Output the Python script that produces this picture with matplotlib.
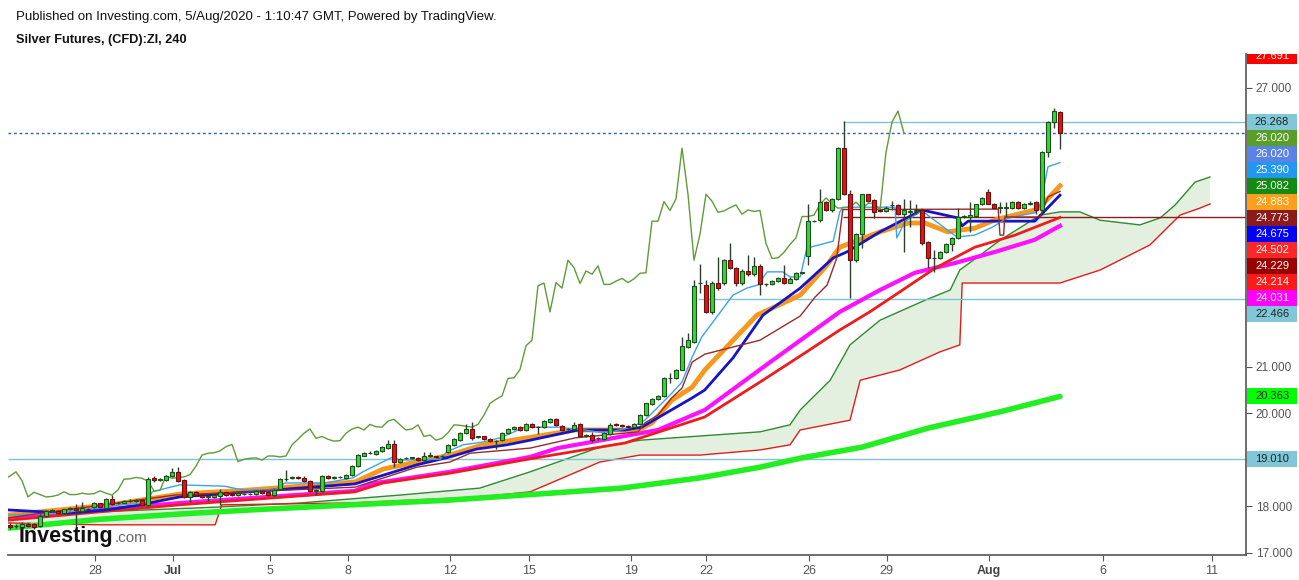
import numpy as np
import matplotlib
matplotlib.use("Agg")
import matplotlib.pyplot as plt
from matplotlib.patches import Rectangle
from matplotlib.transforms import Bbox, TransformedBbox
from matplotlib import font_manager

# ---------------- data ----------------
opens = [17.60,17.57,17.55,17.62,17.62,17.57,17.80,17.89,17.90,17.86,17.94,17.96,17.90,17.95,17.98,18.06,17.96,18.15,18.06,18.08,
         18.11,18.12,18.13,18.03,18.60,18.57,18.56,18.65,18.74,18.56,18.20,18.30,18.25,18.20,18.20,18.23,18.31,18.26,18.24,18.26,
         18.26,18.26,18.33,18.31,18.25,18.37,18.58,18.61,18.62,18.61,18.54,18.33,18.33,18.65,18.61,18.62,18.61,18.68,18.87,19.09,
         19.14,19.13,19.19,19.26,19.33,18.96,19.03,19.04,19.04,18.99,19.08,19.07,19.07,19.16,19.32,19.42,19.57,19.66,19.49,19.50,
         19.45,19.40,19.42,19.57,19.66,19.70,19.64,19.77,19.71,19.71,19.82,19.87,19.73,19.65,19.65,19.76,19.50,19.53,19.46,19.44,
         19.55,19.76,19.74,19.72,19.70,19.77,19.96,20.20,20.30,20.37,20.75,20.75,20.94,21.43,21.54,22.79,22.76,22.17,22.79,22.79,
         23.29,23.13,22.79,23.06,22.99,23.17,22.77,22.77,22.84,22.90,22.81,22.88,23.02,23.39,24.13,24.15,24.54,24.36,24.61,25.70,
         24.71,23.29,23.85,24.71,24.58,24.37,24.35,24.47,24.48,24.28,24.33,24.35,24.37,23.69,23.33,23.33,23.46,23.63,23.77,24.23,
         24.21,24.25,24.49,24.75,24.51,24.42,24.42,24.41,24.54,24.42,24.51,24.54,24.37,25.61,26.26,26.47]
highs = [17.63,17.61,17.65,17.66,17.64,17.84,17.92,17.94,17.92,17.95,17.99,18.05,18.10,17.97,18.09,18.08,18.17,18.24,18.10,18.13,
         18.15,18.16,18.15,18.63,18.64,18.61,18.67,18.82,18.85,18.58,18.33,18.32,18.27,18.24,18.26,18.36,18.33,18.28,18.30,18.28,
         18.29,18.35,18.35,18.33,18.37,18.61,18.78,18.65,18.64,18.66,18.56,18.37,18.68,18.67,18.64,18.65,18.70,18.88,19.12,19.16,
         19.18,19.21,19.30,19.42,19.42,19.04,19.05,19.06,19.06,19.17,19.17,19.09,19.10,19.34,19.46,19.59,19.76,19.82,19.52,19.52,
         19.47,19.43,19.59,19.68,19.72,19.72,19.79,19.79,19.73,19.85,19.89,19.89,19.75,19.68,19.81,19.78,19.55,19.60,19.49,19.60,
         19.80,19.78,19.76,19.74,19.78,19.98,20.23,20.32,20.39,20.77,20.86,20.96,21.63,21.72,22.87,23.21,22.86,22.85,23.35,23.32,
         23.65,23.15,23.10,23.40,23.37,23.21,22.80,22.87,22.93,23.19,22.92,23.03,23.04,24.51,24.15,24.82,24.56,24.63,25.72,26.28,
         24.80,23.87,24.72,24.72,24.60,24.40,24.45,24.56,24.50,24.61,24.58,24.49,24.39,23.71,23.51,23.49,23.65,23.80,24.41,24.26,
         24.54,24.51,24.65,24.82,24.53,24.55,24.55,24.56,24.56,24.53,24.56,24.56,25.63,26.28,26.57,26.50]
lows = [17.52,17.54,17.53,17.55,17.52,17.55,17.78,17.87,17.83,17.84,17.92,17.55,17.88,17.91,17.96,17.96,17.94,18.02,18.04,18.06,
        18.09,18.10,18.01,18.01,18.53,18.55,18.54,18.63,18.53,18.17,18.10,18.23,18.17,18.11,18.18,18.03,18.23,18.23,18.22,18.24,
        18.24,18.24,18.26,18.22,18.23,18.35,18.55,18.58,18.58,18.52,18.31,18.24,18.30,18.58,18.59,18.60,18.59,18.66,18.85,19.07,
        19.12,19.11,19.17,19.24,18.85,18.94,19.01,19.02,18.97,18.97,19.05,19.04,19.05,19.14,19.30,19.40,19.55,19.42,19.47,19.42,
        19.38,19.24,19.40,19.55,19.64,19.62,19.62,19.69,19.55,19.69,19.80,19.73,19.62,19.63,19.63,19.48,19.48,19.38,19.43,19.42,
        19.53,19.72,19.70,19.68,19.68,19.75,19.94,20.18,20.28,20.35,20.66,20.73,20.92,21.41,21.52,22.58,22.15,22.13,22.66,22.76,
        23.10,22.74,22.76,22.95,22.96,22.54,22.74,22.75,22.82,22.78,22.79,22.86,22.99,23.19,24.11,24.12,24.34,24.33,24.59,24.69,
        22.48,23.25,23.56,24.54,24.20,24.32,24.33,24.37,24.26,23.47,24.01,24.28,23.62,23.12,23.04,23.31,23.44,23.48,23.75,24.20,
        23.90,24.23,24.47,24.49,24.39,24.30,24.23,24.39,24.39,24.40,24.48,24.28,24.35,25.50,26.13,25.68]
closes = [17.55,17.58,17.62,17.57,17.56,17.79,17.89,17.91,17.85,17.93,17.95,17.91,17.96,17.93,18.06,17.98,18.15,18.04,18.08,18.11,
          18.12,18.13,18.03,18.58,18.56,18.58,18.65,18.74,18.55,18.20,18.30,18.25,18.20,18.21,18.24,18.31,18.25,18.25,18.28,18.26,
          18.27,18.33,18.28,18.24,18.35,18.58,18.59,18.62,18.60,18.54,18.33,18.34,18.65,18.60,18.62,18.63,18.68,18.86,19.10,19.14,
          19.15,19.19,19.28,19.33,18.96,19.01,19.03,19.04,18.99,19.08,19.08,19.06,19.08,19.32,19.44,19.57,19.66,19.46,19.50,19.44,
          19.40,19.41,19.57,19.66,19.70,19.64,19.76,19.71,19.70,19.83,19.87,19.75,19.64,19.66,19.75,19.50,19.53,19.42,19.46,19.58,
          19.75,19.74,19.72,19.70,19.76,19.96,20.21,20.30,20.37,20.75,20.76,20.94,21.45,21.57,22.74,22.80,22.18,22.81,22.69,23.29,
          23.13,22.79,23.06,22.99,23.17,22.77,22.77,22.84,22.90,22.81,22.89,23.01,23.02,24.13,24.13,24.55,24.36,24.61,25.70,24.71,
          23.29,23.85,24.71,24.56,24.32,24.35,24.42,24.48,24.28,24.37,24.34,24.36,23.65,23.33,23.34,23.46,23.63,23.77,24.23,24.23,
          24.26,24.49,24.63,24.51,24.41,24.42,24.43,24.54,24.41,24.51,24.52,24.37,25.61,26.26,26.50,26.02]

ma200_idx = [-0.3, 15, 28, 40, 57, 73, 90, 102, 115, 125, 132, 142, 153, 165, 175]
ma200_val = [17.53, 17.72, 17.83, 17.92, 18.03, 18.13, 18.28, 18.39, 18.61, 18.84, 19.04, 19.27, 19.68, 20.03, 20.36]

ma100_idx = [-0.3, 15, 28.3, 57.5, 60, 73.3, 86.7, 91.3, 108, 115.8, 126.7, 138.3, 145, 150.8, 157.5, 164.2, 170.8, 175]
ma100_val = [17.77, 17.92, 18.07, 18.33, 18.48, 18.74, 19.06, 19.25, 19.64, 20.07, 21.10, 22.18, 22.65, 23.02, 23.23, 23.47, 23.73, 24.03]

ma50_idx = [-0.3, 15, 28.3, 57.5, 62.2, 73.3, 86.7, 102.5, 115.8, 125, 131.7, 138.3, 143.3, 147.5, 154.2, 160.8, 167.5, 175]
ma50_val = [17.70, 17.88, 18.03, 18.31, 18.50, 18.71, 19.02, 19.36, 19.92, 20.67, 21.23, 21.79, 22.18, 22.54, 23.12, 23.57, 23.83, 24.21]

sma_idx = [-0.3, 9.5, 16.2, 21.7, 28.3, 40, 57.5, 67.8, 73.3, 77.8, 82.8, 86.7, 94.7, 102.5, 105.3, 109.7, 113.7, 115.8, 120.5,
           125.5, 131.7, 137.2, 139.5, 145, 152, 158, 158.7, 159.7, 170.8, 175]
sma_val = [17.92, 17.85, 17.92, 18.03, 18.20, 18.31, 18.48, 18.89, 19.06, 19.23, 19.32, 19.42, 19.64, 19.64, 19.70, 20.03, 20.33,
           20.50, 21.19, 22.11, 22.69, 23.34, 23.47, 23.90, 24.37, 24.20, 24.03, 24.13, 24.13, 24.69]

ema_idx = [-0.3, 16.7, 28.3, 40, 57.5, 62.2, 67.8, 73.3, 78.8, 86.7, 94.2, 104.7, 107, 110.3, 113.7, 115.8, 124.5, 131.7, 136.2,
           138.3, 145, 149.7, 152.5, 156.3, 160.8, 164.2, 170.8, 172, 175]
ema_val = [17.81, 18.03, 18.26, 18.35, 18.52, 18.80, 18.95, 19.10, 19.32, 19.48, 19.64, 19.64, 19.79, 20.28, 20.56, 20.93, 22.11,
           22.54, 23.19, 23.57, 23.90, 24.09, 24.09, 23.90, 23.98, 24.16, 24.37, 24.48, 24.89]

tenkan_idx = [-0.3, 8.3, 18.3, 22.8, 23.7, 28.3, 35.8, 38.7, 44.2, 45.8, 52.5, 57.2, 58.8, 63.8, 65, 71.7, 72.8, 75.5, 78.8, 81.7,
              85.8, 91.3, 95.8, 99.2, 103.7, 105.8, 108, 110.3, 112, 113.7, 115.3, 120.5, 122.8, 124.7, 126.2, 128.8, 130,
              131.7, 132.8, 137.2, 138.3, 138.8, 147.5, 147.8, 149.2, 152, 157.8, 160.8, 163.7, 166.3, 170.8, 171.7, 173, 175]
tenkan_val = [17.81, 17.85, 18.03, 18.07, 18.31, 18.46, 18.43, 18.35, 18.35, 18.50, 18.50, 18.61, 18.74, 19.06, 18.99, 19.01, 19.17,
              19.32, 19.38, 19.47, 19.70, 19.70, 19.64, 19.57, 19.70, 19.85, 20.13, 20.43, 20.67, 21.21, 21.64, 22.54, 22.69,
              22.76, 23.04, 23.04, 22.93, 22.93, 23.55, 23.70, 24.33, 24.43, 24.43, 23.77, 24.13, 24.35, 23.79, 23.83, 24.00,
              24.20, 24.31, 24.48, 25.30, 25.39]

kijun_idx = [-0.3, 27.5, 57.5, 67.8, 73.3, 76.7, 86.7, 94.2, 104.7, 105.8, 108, 110.3, 112, 113.7, 115.8, 125, 131.7, 134.2, 136.2,
             137.8, 138.8, 164.7, 165, 165.6, 165.8, 171.7, 172, 173, 175]
kijun_val = [17.75, 18.24, 18.41, 18.84, 18.95, 19.14, 19.25, 19.47, 19.60, 19.79, 19.96, 20.33, 20.54, 21.10, 21.27, 21.57, 22.09,
             22.50, 22.76, 23.34, 24.38, 24.39, 23.83, 23.83, 24.22, 24.22, 24.33, 24.65, 24.77]

spanA_idx = [-0.3, 15, 34.2, 48.3, 65, 78.3, 86.7, 98.3, 105, 115, 125, 130, 131.7, 136.7, 140, 145, 152.5, 156.7, 158.3, 161.7,
             165, 171.7, 175, 178.3, 181.7, 188.3, 191.7, 194.2, 197.5, 200]
spanA_val = [17.77, 17.88, 17.98, 18.07, 18.24, 18.39, 18.74, 19.27, 19.42, 19.51, 19.60, 19.75, 20.07, 20.71, 21.47, 22.00, 22.43,
             22.65, 23.08, 23.40, 23.72, 24.26, 24.33, 24.33, 24.15, 24.05, 24.20, 24.48, 24.97, 25.08]
spanB_idx = [-0.3, 15, 34.2, 35.3, 56.7, 78.3, 86.7, 98.3, 105, 115, 125, 130, 131.7, 140, 141.7, 148.3, 155, 158.3, 158.7, 175,
             181.7, 190, 195, 198.3, 200]
spanB_val = [17.64, 17.60, 17.60, 18.03, 18.07, 18.20, 18.31, 18.95, 19.10, 19.10, 19.21, 19.32, 19.64, 19.85, 20.71, 20.93, 21.32,
             21.47, 22.80, 22.80, 23.08, 23.62, 24.26, 24.41, 24.50]
chikou_shift = 26

# horizontal drawings: level, start bar
level_values = [19.010, 22.466, 26.268]
level_starts = [-0.3, 114.7, 138.8]
ray_value, ray_start = 24.229, 138.8
price_last = 26.020

# right scale value tags
tag_values = [27.691, 26.268, 26.020, 26.020, 25.390, 25.082, 24.883, 24.773, 24.675, 24.502, 24.229, 24.214, 24.031, 22.466, 20.363, 19.010]
tag_colors = ['#ff0000', '#80c8d8', '#5a9e2a', '#5b83e6', '#2196f3', '#138a13', '#ff9e1b', '#8b1a1a', '#0000ff', '#ff2626',
              '#990000', '#ff1a1a', '#ff00ff', '#80c8d8', '#00ff00', '#80c8d8']
tag_text = ['white', '#222222', 'white', 'white', 'white', 'white', 'white', 'white', 'white', 'white', 'white', 'white', 'white',
            '#222222', '#222222', '#222222']

yticks = [17, 18, 19, 20, 21, 22, 23, 24, 25, 26, 27]
xtick_pos = [14.2, 27.2, 43.3, 56.3, 73.3, 86.5, 103.5, 116, 133.2, 146.1, 163.2, 182.2, 200.3]
xtick_lab = ['28', 'Jul', '5', '8', '12', '15', '19', '22', '26', '29', 'Aug', '6', '11']

# ---------------- figure ----------------
names = {f.name for f in font_manager.fontManager.ttflist}
base_font = 'Liberation Sans' if 'Liberation Sans' in names else 'DejaVu Sans'
narrow_font = 'Liberation Sans Narrow' if 'Liberation Sans Narrow' in names else base_font
plt.rcParams['font.family'] = [base_font, 'DejaVu Sans']

W, H = 1299, 580
fig = plt.figure(figsize=(W / 100, H / 100), dpi=100)
ax_l, ax_r, ax_t, ax_b = 8, 1246, 54, 555
ax = fig.add_axes([ax_l / W, 1 - ax_b / H, (ax_r - ax_l) / W, (ax_b - ax_t) / H])
ax.set_xlim(-0.33, 206)
ax.set_ylim(16.951, 27.725)

# cloud
xa = np.array(spanA_idx); ya = np.array(spanA_val)
xb = np.array(spanB_idx); yb = np.array(spanB_val)
ax.fill(np.r_[xa, xb[::-1]], np.r_[ya, yb[::-1]], color='#e3f0df', lw=0, zorder=1)
ax.plot(xa, ya, color='#2e8b2e', lw=1, zorder=2)
ax.plot(xb, yb, color='#e31b1b', lw=1, zorder=2)

# levels
for lv, st in zip(level_values, level_starts):
    ax.hlines(lv, st, 206, color='#7fc4d4', lw=1, zorder=2)
ax.hlines(ray_value, ray_start, 206, color='#8b1a1a', lw=1, zorder=2)
ax.axhline(price_last, color='#3b5bb0', lw=1, ls=(0, (2, 2)), zorder=2)

# moving averages
ax.plot(ma200_idx, ma200_val, color='#22ee22', lw=4, solid_capstyle='round', zorder=3)
ax.plot(ma100_idx, ma100_val, color='#ff10ff', lw=3, zorder=3)
ax.plot(ma50_idx, ma50_val, color='#ee1c1c', lw=2, zorder=3)
ax.plot(ema_idx, ema_val, color='#f7981d', lw=3.5, zorder=3)
ax.plot(sma_idx, sma_val, color='#1414c8', lw=2, zorder=3)
ax.plot(tenkan_idx, tenkan_val, color='#3ea2ea', lw=1, zorder=3)
ax.plot(kijun_idx, kijun_val, color='#9a2a2a', lw=1, zorder=3)

# chikou = closes displaced back
n = len(closes)
idx = np.arange(n)
ax.plot(idx - chikou_shift, closes, color='#5f9c38', lw=1, zorder=3)

# candles
o = np.array(opens); c = np.array(closes); h = np.array(highs); l = np.array(lows)
up = c >= o
ax.vlines(idx, l, h, color='#2f3f2f', lw=1, zorder=4)
body_lo = np.minimum(o, c)
body_h = np.maximum(np.abs(c - o), 0.012)
ax.bar(idx[up], body_h[up], bottom=body_lo[up], width=0.78, color='#2edb2e', edgecolor='#1e4d1e', lw=0.8, zorder=5)
ax.bar(idx[~up], body_h[~up], bottom=body_lo[~up], width=0.78, color='#e01414', edgecolor='#6b1010', lw=0.8, zorder=5)

# axes styling
for s in ['top', 'left']:
    ax.spines[s].set_visible(False)
for s in ['bottom', 'right']:
    ax.spines[s].set_color('#555555')
    ax.spines[s].set_linewidth(1.2)
ax.yaxis.tick_right()
ax.set_yticks(yticks)
ax.set_yticklabels(['%.3f' % t for t in yticks])
ax.tick_params(axis='y', colors='#555555', labelsize=8.5, length=4, pad=3, labelcolor='#555555')
ax.set_xticks(xtick_pos)
ax.set_xticklabels(xtick_lab)
ax.tick_params(axis='x', colors='#555555', labelsize=9, length=4, pad=3)
for t in ax.get_xticklabels():
    t.set_family([narrow_font, base_font])
    if t.get_text() in ('Jul', 'Aug'):
        t.set_fontweight('bold')
        t.set_color('#444444')

# value tags on right scale (stacked like TradingView)
box_h = 16
order = np.argsort(-np.array(tag_values), kind='stable')
prev = None
clip = TransformedBbox(Bbox([[0, 0], [1, 1 - ax_t / H]]), fig.transFigure)
tag_centers = []
for k in order:
    v = tag_values[k]
    yd = ax.transData.transform((0, v))[1]
    if prev is not None and yd > prev - box_h:
        yd = prev - box_h
    prev = yd
    tag_centers.append(yd)
    fy = yd / H
    r = Rectangle((1247 / W, fy - box_h / 2 / H), 50 / W, box_h / H, transform=fig.transFigure,
                  facecolor=tag_colors[k], edgecolor='none', zorder=5)
    r.set_clip_box(clip)
    fig.add_artist(r)
    t = fig.text(1272 / W, fy, '%.3f' % v, ha='center', va='center', fontsize=8,
                 color=tag_text[k], zorder=6)
    t.set_clip_box(clip)
    t.set_clip_on(True)

# tick labels that sit under a tag are hidden by it
for tv, lab in zip(yticks, ax.get_yticklabels()):
    ty = ax.transData.transform((0, tv))[1]
    if any(abs(ty - cy) < 8.5 for cy in tag_centers):
        lab.set_visible(False)

# header
fig.text(16 / W, 1 - 17 / H, 'Published on Investing.com, 5/Aug/2020 - 1:10:47 GMT, Powered by TradingView.',
         fontsize=9.5, color='#111111', va='center', ha='left')
fig.text(16 / W, 1 - 40 / H, 'Silver Futures, (CFD):ZI, 240', fontsize=9.2, fontweight='bold',
         color='#111111', va='center', ha='left')

# logo
t1 = fig.text(19 / W, 1 - 542 / H, 'Investing', fontsize=15.5, fontweight='heavy', color='#111111',
              family=[narrow_font, base_font], va='baseline', ha='left', zorder=7)
fig.canvas.draw()
bb = t1.get_window_extent()
fig.text((bb.x1 + 1) / W, 1 - 542 / H, '.com', fontsize=11, color='#666666',
         family=[narrow_font, base_font], va='baseline', ha='left', zorder=7)

fig.savefig('out.png', dpi=100)
